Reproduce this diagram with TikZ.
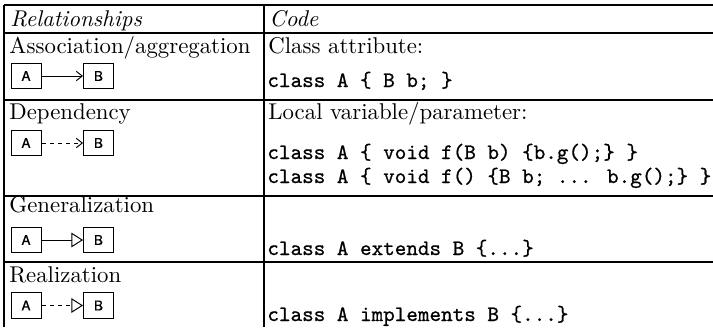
\documentclass[tikz,border=0pt]{standalone}
\usepackage{fontspec}
\newfontfamily\boxfont{TeX Gyre Heros}[FakeBold=0.6]
\newfontfamily\codefont{Latin Modern Mono}[FakeBold=0.8]
\usepackage{tikz}
\usetikzlibrary{arrows.meta}
\tikzset{
  tablerule/.style={line width=0.55pt},
  celltext/.style={anchor=base west,inner sep=0pt,font=\fontsize{10.65}{12}\selectfont},
  codetext/.style={anchor=base west,inner sep=0pt,font=\codefont\fontsize{10.3}{12}\selectfont},
  classbox/.style={draw,line width=0.45pt,minimum width=14pt,minimum height=12pt,inner sep=0pt,font=\boxfont\fontsize{6.3}{7}\selectfont},
  assocarrow/.style={line width=0.45pt,-{Straight Barb[length=2.8pt,width=4.4pt]}},
  dependarrow/.style={assocarrow,dash pattern=on 2pt off 1.8pt},
  genarrow/.style={line width=0.45pt,-{Triangle[open,length=5.4pt,width=6.8pt]}},
  realarrow/.style={genarrow,dash pattern=on 2pt off 1.8pt}
}
\begin{document}
\begin{tikzpicture}[x=0.467pt,y=-0.467pt]
  \useasboundingbox (0,0) rectangle (713,327);
  % table rules
  \draw[tablerule] (4,5) -- (713,5);
  \draw[tablerule] (4,33) -- (713,33);
  \draw[tablerule] (4,100) -- (713,100);
  \draw[tablerule] (4,196) -- (713,196);
  \draw[tablerule] (4,262) -- (713,262);
  \draw[tablerule] (4,5) -- (4,327);
  \draw[tablerule] (264,5) -- (264,327);
  % header
  \node[celltext] (relhead) at (10,26) {\itshape Relationships};
  \node[celltext] (codehead) at (269,26) {\itshape Code};
  % association
  \node[celltext] (assoc) at (9,53) {Association/aggregation};
  \node[classbox] (a1) at (26,76) {A};
  \node[classbox] (b1) at (98.5,76) {B};
  \draw[assocarrow] (a1) -- (b1);
  \node[celltext] (assoctxt) at (268,53) {Class attribute:};
  \node[codetext] (assoccode) at (267,87) {class A \{ B b; \}};
  % dependency
  \node[celltext] (depend) at (9,119) {Dependency};
  \node[classbox] (a2) at (26,143) {A};
  \node[classbox] (b2) at (98.5,143) {B};
  \draw[dependarrow] (a2) -- (b2);
  \node[celltext] (dependtxt) at (268,119) {Local variable/parameter:};
  \node[codetext] (dependcode) at (267,159) {class A \{ void f(B b) \{b.g();\} \}};
  \node[codetext] (dependcodeb) at (267,183) {class A \{ void f() \{B b; ... b.g();\} \}};
  % generalization
  \node[celltext] (gen) at (9,212) {Generalization};
  \node[classbox] (a3) at (26,240) {A};
  \node[classbox] (b3) at (98.5,240) {B};
  \draw[genarrow] (a3) -- (b3);
  \node[codetext] (gencode) at (267,255) {class A extends B \{...\}};
  % realization
  \node[celltext] (real) at (9,282) {Realization};
  \node[classbox] (a4) at (26,305.5) {A};
  \node[classbox] (b4) at (98.5,305.5) {B};
  \draw[realarrow] (a4) -- (b4);
  \node[codetext] (realcode) at (267,321) {class A implements B \{...\}};
\end{tikzpicture}
\end{document}
